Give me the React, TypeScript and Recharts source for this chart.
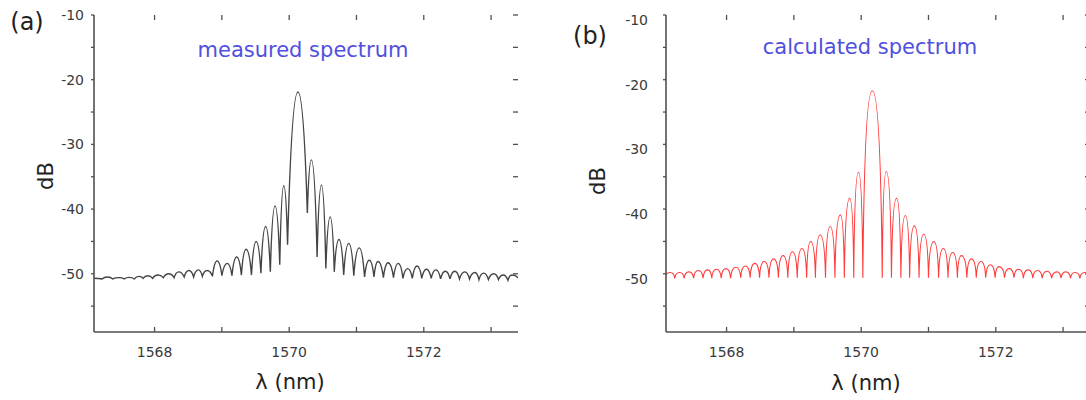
import { LineChart, Line, XAxis, YAxis, ReferenceLine } from "recharts";

// axis setup shared by both panels
const X_DOMAIN = [1567.1, 1573.4];
const Y_DOMAIN = [-59, -10];
const X_TICKS = [1568, 1569, 1570, 1571, 1572, 1573];
const Y_TICKS = [-55, -50, -45, -40, -35, -30, -25, -20, -15, -10];

// (a) measured spectrum: lobe maxima and minima
const measuredPeakNm = [
  1567.3, 1567.47, 1567.62, 1567.77, 1567.9, 1568.05, 1568.21, 1568.36, 1568.51, 1568.65,
  1568.78, 1568.93, 1569.08, 1569.22, 1569.36, 1569.51, 1569.65, 1569.79, 1569.92, 1570.13,
  1570.33, 1570.48, 1570.61, 1570.74, 1570.885, 1571.04, 1571.19, 1571.32, 1571.47, 1571.62,
  1571.76, 1571.9, 1572.04, 1572.18, 1572.32, 1572.46, 1572.61, 1572.76, 1572.89, 1573.04,
  1573.18, 1573.31,
];
const measuredPeakDb = [
  -50.5, -50.6, -50.55, -50.4, -50.3, -50.2, -50.0, -49.7, -49.5, -49.4,
  -49.5, -48.0, -48.4, -47.4, -46.2, -45.0, -42.7, -39.5, -36.4, -21.9,
  -32.4, -36.3, -41.2, -44.7, -45.3, -46.0, -47.9, -48.1, -48.3, -48.4,
  -49.2, -48.8, -49.3, -49.4, -49.6, -49.6, -49.7, -49.8, -49.9, -50.0,
  -50.2, -50.2,
];
const measuredNullNm = [
  1567.1, 1567.22, 1567.38, 1567.55, 1567.7, 1567.83, 1567.97, 1568.13, 1568.29, 1568.44,
  1568.58, 1568.71, 1568.86, 1569.0, 1569.15, 1569.29, 1569.44, 1569.58, 1569.72, 1569.86,
  1569.976, 1570.27, 1570.415, 1570.545, 1570.67, 1570.81, 1570.96, 1571.12, 1571.26, 1571.4,
  1571.55, 1571.69, 1571.83, 1571.97, 1572.11, 1572.25, 1572.39, 1572.53, 1572.68, 1572.82,
  1572.96, 1573.11, 1573.25, 1573.4,
];
const measuredNullDb = [
  -50.7, -50.8, -50.8, -50.8, -50.8, -50.7, -50.7, -50.6, -50.6, -50.5,
  -50.5, -50.4, -50.4, -50.3, -50.3, -50.2, -50.2, -49.9, -49.7, -48.6,
  -45.5, -40.6, -47.4, -49.2, -49.7, -50.2, -50.3, -50.5, -50.5, -50.6,
  -50.6, -50.7, -50.7, -50.7, -50.7, -50.8, -50.8, -50.8, -50.8, -50.9,
  -50.9, -50.9, -51.0, -50.6,
];

// (b) calculated spectrum
const calcPeakNm = [
  1567.16, 1567.3, 1567.44, 1567.58, 1567.72, 1567.85, 1567.99, 1568.14, 1568.28, 1568.42,
  1568.56, 1568.7, 1568.84, 1568.98, 1569.12, 1569.25, 1569.39, 1569.54, 1569.69, 1569.83,
  1569.96, 1570.165, 1570.373, 1570.526, 1570.656, 1570.79, 1570.93, 1571.08, 1571.22, 1571.36,
  1571.49, 1571.64, 1571.78, 1571.92, 1572.05, 1572.2, 1572.34, 1572.48, 1572.62, 1572.76,
  1572.91, 1573.04, 1573.18, 1573.32,
];
const calcPeakDb = [
  -49.8, -49.8, -49.7, -49.5, -49.4, -49.3, -49.2, -49.0, -48.8, -48.4,
  -48.1, -47.7, -47.2, -46.6, -46.1, -45.0, -44.0, -42.7, -40.9, -38.3,
  -34.3, -21.7, -34.2, -38.3, -41.0, -42.6, -43.9, -45.0, -46.1, -46.7,
  -47.2, -47.7, -48.1, -48.6, -48.9, -49.2, -49.3, -49.4, -49.5, -49.6,
  -49.7, -49.7, -49.8, -49.8,
];
const calcNullNm = [
  1567.1, 1567.23, 1567.37, 1567.51, 1567.65, 1567.78, 1567.92, 1568.06, 1568.21, 1568.35,
  1568.49, 1568.63, 1568.77, 1568.91, 1569.05, 1569.19, 1569.32, 1569.47, 1569.61, 1569.75,
  1569.89, 1570.025, 1570.313, 1570.45, 1570.59, 1570.72, 1570.86, 1571.0, 1571.15, 1571.29,
  1571.43, 1571.57, 1571.71, 1571.85, 1571.99, 1572.13, 1572.27, 1572.41, 1572.55, 1572.69,
  1572.83, 1572.97, 1573.11, 1573.25, 1573.4,
];
const calcNullDb = [
  -50.2, -50.7, -50.7, -50.7, -50.7, -50.7, -50.7, -50.7, -50.6, -50.6,
  -50.6, -50.6, -50.6, -50.6, -50.6, -50.6, -50.6, -50.6, -50.6, -50.6,
  -50.6, -50.6, -50.6, -50.6, -50.6, -50.6, -50.6, -50.6, -50.6, -50.6,
  -50.6, -50.6, -50.6, -50.6, -50.6, -50.6, -50.6, -50.7, -50.7, -50.7,
  -50.7, -50.7, -50.7, -50.7, -50.2,
];

const FONT = "'DejaVu Sans', Arial, sans-serif";
const FRAME = "#505050";

const build = (pNm: number[], pDb: number[], nNm: number[], nDb: number[]) =>
  [
    ...pNm.map((nm, i) => ({ nm, db: pDb[i] })),
    ...nNm.map((nm, i) => ({ nm, db: nDb[i] })),
  ].sort((a, b) => a.nm - b.nm);

const measured = build(measuredPeakNm, measuredPeakDb, measuredNullNm, measuredNullDb);
const calculated = build(calcPeakNm, calcPeakDb, calcNullNm, calcNullDb);

// d3-style curve: steep near the minima, rounded on top of each lobe
const makeLobeCurve = (kx: number, ky: number, kTop: number) => (context: any) => {
  let pts: number[][] = [];
  return {
    areaStart() {},
    areaEnd() {},
    lineStart() {
      pts = [];
    },
    point(x: number, y: number) {
      pts.push([+x, +y]);
    },
    lineEnd() {
      pts.forEach(([x, y], i) => {
        if (i === 0) {
          context.moveTo(x, y);
          return;
        }
        const [px, py] = pts[i - 1];
        const dx = x - px;
        if (y < py) {
          context.bezierCurveTo(px + dx * kx, py + (y - py) * ky, x - dx * kTop, y, x, y);
        } else {
          context.bezierCurveTo(px + dx * kTop, py, x - dx * kx, y + (py - y) * ky, x, y);
        }
      });
    },
  };
};

const sharpCurve = makeLobeCurve(0.12, 0.7, 0.5);
const softCurve = makeLobeCurve(0.22, 0.55, 0.45);

const YTick = (props: any) => {
  const { x, y, payload, shift } = props;
  if (payload.value % 10 !== 0) return <g />;
  return (
    <text x={x} y={y + shift} textAnchor="end" dominantBaseline="central" fontSize={14} fill="#3a3a3a" fontFamily={FONT}>
      {payload.value}
    </text>
  );
};

const XTick = (props: any) => {
  const { x, y, payload } = props;
  if (payload.value % 2 !== 0) return <g />;
  return (
    <text x={x} y={y} textAnchor="middle" dominantBaseline="central" fontSize={14} fill="#3a3a3a" fontFamily={FONT}>
      {payload.value}
    </text>
  );
};

// tick mark lengths in data units (about 5px inward, 3px outward on the left)
const X_IN = 0.77;
const Y_IN = 0.074;
const Y_OUT = 0.045;

function tickMarks() {
  const [x0, x1] = X_DOMAIN;
  const [y0, y1] = Y_DOMAIN;
  const seg = (a: any, b: any, key: string) => (
    <ReferenceLine
      key={key}
      xAxisId="b"
      yAxisId="l"
      segment={[a, b]}
      stroke={FRAME}
      strokeWidth={1.3}
      ifOverflow="visible"
    />
  );
  return [
    ...X_TICKS.map((t) => seg({ x: t, y: y0 }, { x: t, y: y0 + X_IN }, `xb${t}`)),
    ...X_TICKS.map((t) => seg({ x: t, y: y1 }, { x: t, y: y1 - X_IN }, `xt${t}`)),
    ...Y_TICKS.map((t) => seg({ x: x0 - Y_OUT, y: t }, { x: x0, y: t }, `yl${t}`)),
    ...Y_TICKS.map((t) => seg({ x: x1, y: t }, { x: x1 - Y_IN, y: t }, `yr${t}`)),
  ];
}

function Panel({ data, stroke, strokeWidth, curve, marginLeft, labelGap, labelShift }: any) {
  return (
    <LineChart
      width={560}
      height={400}
      data={data}
      margin={{ top: 15, right: 560 - marginLeft - 40 - 424, bottom: 38, left: marginLeft }}
    >
      <XAxis
        xAxisId="b"
        type="number"
        dataKey="nm"
        domain={X_DOMAIN}
        ticks={X_TICKS}
        allowDataOverflow
        height={30}
        tickSize={0}
        tickMargin={20}
        tick={<XTick />}
        tickLine={false}
        stroke={FRAME}
        strokeWidth={1.6}
      />
      <XAxis
        xAxisId="t"
        orientation="top"
        type="number"
        dataKey="nm"
        domain={X_DOMAIN}
        allowDataOverflow
        height={0}
        tick={false}
        tickLine={false}
        stroke={FRAME}
        strokeWidth={1.6}
      />
      <YAxis
        yAxisId="l"
        type="number"
        domain={Y_DOMAIN}
        ticks={Y_TICKS}
        allowDataOverflow
        width={40}
        tickSize={0}
        tickMargin={labelGap}
        tick={<YTick shift={labelShift} />}
        tickLine={false}
        stroke={FRAME}
        strokeWidth={1.6}
      />
      <YAxis
        yAxisId="r"
        orientation="right"
        type="number"
        domain={Y_DOMAIN}
        allowDataOverflow
        width={0}
        tick={false}
        tickLine={false}
        stroke={FRAME}
        strokeWidth={1.6}
      />
      {tickMarks()}
      <Line
        xAxisId="b"
        yAxisId="l"
        dataKey="db"
        type={curve}
        stroke={stroke}
        strokeWidth={strokeWidth}
        dot={false}
        isAnimationActive={false}
      />
    </LineChart>
  );
}

const abs = (x: number, y: number, extra: any = {}) => ({
  position: "absolute" as const,
  left: x,
  top: y,
  transform: "translate(-50%, -50%)",
  whiteSpace: "nowrap" as const,
  fontFamily: FONT,
  lineHeight: 1,
  ...extra,
});

export default function App() {
  return (
    <div
      style={{
        position: "absolute",
        left: 0,
        top: 0,
        width: 1086,
        height: 400,
        overflow: "hidden",
        background: "#fff",
      }}
    >
      <div style={{ position: "absolute", left: 0, top: 0 }}>
        <Panel data={measured} stroke="#444" strokeWidth={1.4} curve={softCurve} marginLeft={54} labelGap={10} labelShift={0} />
      </div>
      <div style={{ position: "absolute", left: 560, top: 0 }}>
        <Panel data={calculated} stroke="#ff3b3b" strokeWidth={1.1} curve={sharpCurve} marginLeft={66} labelGap={18} labelShift={5} />
      </div>

      <div style={abs(27, 22, { fontSize: 24, color: "#222" })}>(a)</div>
      <div style={abs(590, 36, { fontSize: 24, color: "#222" })}>(b)</div>

      <div style={abs(303, 50, { fontSize: 21, color: "#5050e0" })}>measured spectrum</div>
      <div style={abs(870, 47, { fontSize: 21, color: "#5050e0" })}>calculated spectrum</div>

      <div style={abs(46, 176, { fontSize: 21, color: "#222", transform: "translate(-50%, -50%) rotate(-90deg)" })}>dB</div>
      <div style={abs(598, 181, { fontSize: 21, color: "#222", transform: "translate(-50%, -50%) rotate(-90deg)" })}>dB</div>

      <div style={abs(290, 382, { fontSize: 21, color: "#222" })}>λ (nm)</div>
      <div style={abs(866, 383, { fontSize: 21, color: "#222" })}>λ (nm)</div>
    </div>
  );
}
